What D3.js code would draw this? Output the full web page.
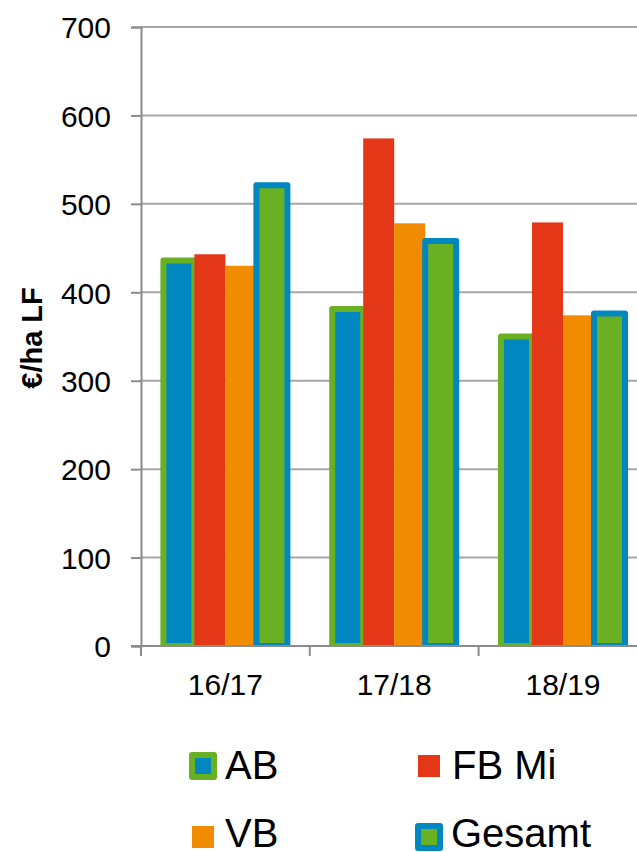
<!DOCTYPE html>
<html><head><meta charset="utf-8">
<script src="https://cdn.jsdelivr.net/npm/d3@7"></script>
<style>html,body{margin:0;padding:0;background:#fff;overflow:hidden}</style>
</head><body><svg id="c" width="637" height="852"></svg>
<script>
const categories = ["16/17", "17/18", "18/19"];
const seriesNames = ["AB", "FB Mi", "VB", "Gesamt"];
const AB = [436, 381, 350];
const FBMi = [443, 574, 479];
const VB = [430, 478, 374];
const Gesamt = [521, 458, 376];
const yTicks = [0, 100, 200, 300, 400, 500, 600, 700];

const seriesValues = [AB, FBMi, VB, Gesamt];
const fills   = ["#0087C0", "#E33718", "#F18C00", "#6AB023"];
const strokes = ["#6AB023", null, null, "#0087C0"];

const svg = d3.select("#c");
const plotL = 141, plotT = 27, plotB = 646, plotR = 647.4;
const font = "Liberation Sans, Arial, sans-serif";

const y = d3.scaleLinear().domain([0, 700]).range([plotB, plotT]);
const x0 = d3.scaleBand().domain(categories).range([plotL, plotR]).padding(0);
const x1 = d3.scaleBand().domain(seriesNames).range([0, x0.bandwidth()])
  .paddingInner(0).paddingOuter(0.7226);

// gridlines
svg.append("g").selectAll("line").data(yTicks.filter(d => d > 0)).join("line")
  .attr("x1", plotL).attr("x2", 637)
  .attr("y1", d => y(d)).attr("y2", d => y(d))
  .attr("stroke", "#a6a6a6").attr("stroke-width", 2);

svg.append("defs").append("clipPath").attr("id", "pc")
  .append("rect").attr("x", plotL).attr("y", 0).attr("width", 700).attr("height", plotB);

// bars
const gBars = svg.append("g").attr("clip-path", "url(#pc)");
categories.forEach((c, ci) => {
  seriesNames.forEach((s, si) => {
    const v = seriesValues[si][ci];
    const r = gBars.append("rect")
      .attr("x", x0(c) + x1(s))
      .attr("y", y(v))
      .attr("width", x1.bandwidth())
      .attr("height", y(0) - y(v))
      .attr("fill", fills[si]);
    if (strokes[si]) {
      r.attr("stroke", strokes[si]).attr("stroke-width", 6).attr("stroke-linejoin", "round");
    }
  });
});

// y axis
const yAxis = d3.axisLeft(y).tickValues(yTicks).tickSize(10).tickPadding(20);
const gy = svg.append("g").attr("transform", `translate(${plotL},0)`).call(yAxis);
gy.select(".domain").attr("stroke", "#8c8c8c").attr("stroke-width", 2);
gy.selectAll(".tick line").attr("stroke", "#8c8c8c").attr("stroke-width", 2);
gy.selectAll(".tick text").attr("font-family", font).attr("font-size", 30).attr("fill", "#000")
  .attr("dy", "0.36em");

// x axis
const xAxis = d3.axisBottom(x0).tickSize(0).tickPadding(0);
const gx = svg.append("g").attr("transform", `translate(0,${plotB})`).call(xAxis);
gx.select(".domain").remove();
gx.append("line").attr("x1", plotL - 10).attr("x2", 637).attr("y1", 0).attr("y2", 0)
  .attr("stroke", "#8c8c8c").attr("stroke-width", 2);
gx.selectAll(".sep").data(categories).join("line").attr("class", "sep")
  .attr("x1", d => x0(d)).attr("x2", d => x0(d)).attr("y1", 0).attr("y2", 10)
  .attr("stroke", "#8c8c8c").attr("stroke-width", 2);
gx.selectAll(".tick text").attr("font-family", font).attr("font-size", 30).attr("fill", "#000")
  .attr("y", 49).attr("dy", 0);

// y title
svg.append("text").attr("transform", "translate(42,338) rotate(-90)")
  .attr("text-anchor", "middle").attr("font-family", font).attr("font-weight", "bold")
  .attr("font-size", 29).attr("fill", "#000").text("€/ha LF");

// legend
const legendPos = [
  {cx: 203, cy: 766, tx: 225, ty: 779},
  {cx: 429, cy: 766, tx: 452, ty: 779},
  {cx: 203, cy: 837, tx: 225, ty: 847},
  {cx: 429, cy: 837, tx: 451, ty: 847}
];
const lg = svg.append("g");
seriesNames.forEach((s, i) => {
  const p = legendPos[i];
  const r = lg.append("rect").attr("x", p.cx - 11).attr("y", p.cy - 11)
    .attr("width", 22).attr("height", 22).attr("fill", fills[i]);
  if (strokes[i]) r.attr("stroke", strokes[i]).attr("stroke-width", 6).attr("stroke-linejoin", "round");
  lg.append("text").attr("x", p.tx).attr("y", p.ty).attr("font-family", font)
    .attr("font-size", 40).attr("fill", "#000").text(s);
});
</script></body></html>
